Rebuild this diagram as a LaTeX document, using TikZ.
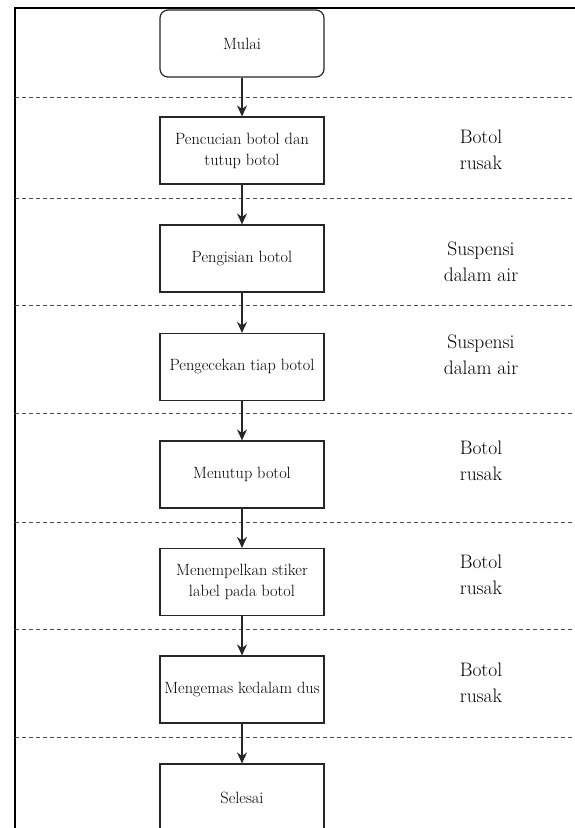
\documentclass[tikz,border=0pt]{standalone}
\usepackage{fontspec}
\usetikzlibrary{arrows.meta}
\begin{document}
\begin{tikzpicture}[x=1pt,y=-1pt,
  procbox/.style={draw=black!85, line width=1.2pt, fill=white, minimum width=164pt, minimum height=67pt, inner sep=2pt, align=center, font=\fontsize{16.3}{21}\selectfont},
  startbox/.style={procbox, rounded corners=8pt},
  sidelabel/.style={align=center, font=\fontsize{19.5}{26}\selectfont, inner sep=0pt},
  flow/.style={draw=black!85, line width=1.2pt, -{Stealth[length=11pt,width=10pt]}},
  sep/.style={draw=black!70, line width=0.9pt, dash pattern=on 4pt off 3pt}
]
\useasboundingbox (0,0) rectangle (575,828);
\clip (0,0) rectangle (575,828);
\draw[line width=2.2pt] (15,840) -- (15,8) -- (580,8);
\foreach \yy in {97,198,305.5,413,522,629,737} \draw[sep] (15,\yy) -- (575,\yy);

\node[startbox] (s0) at (242,43.5) {Mulai};
\node[procbox] (b1) at (242,150.5) {Pencucian botol dan\\tutup botol};
\node[procbox] (b2) at (242,258.5) {Pengisian botol};
\node[procbox] (b3) at (242,367) {Pengecekan tiap botol};
\node[procbox] (b4) at (242,474.5) {Menutup botol};
\node[procbox] (b5) at (242,582) {Menempelkan stiker\\label pada botol};
\node[procbox] (b6) at (242,689.5) {Mengemas kedalam dus};
\node[procbox] (b7) at (242,797.5) {Selesai};

\draw[flow] (s0) -- (b1);
\draw[flow] (b1) -- (b2);
\draw[flow] (b2) -- (b3);
\draw[flow] (b3) -- (b4);
\draw[flow] (b4) -- (b5);
\draw[flow] (b5) -- (b6);
\draw[flow] (b6) -- (b7);

\node[sidelabel] (l1) at (481,150) {Botol\\rusak};
\node[sidelabel] (l2) at (481,262) {Suspensi\\dalam air};
\node[sidelabel] (l3) at (481,355) {Suspensi\\dalam air};
\node[sidelabel] (l4) at (481,461) {Botol\\rusak};
\node[sidelabel] (l5) at (481,575) {Botol\\rusak};
\node[sidelabel] (l6) at (481,683) {Botol\\rusak};
\end{tikzpicture}
\end{document}
